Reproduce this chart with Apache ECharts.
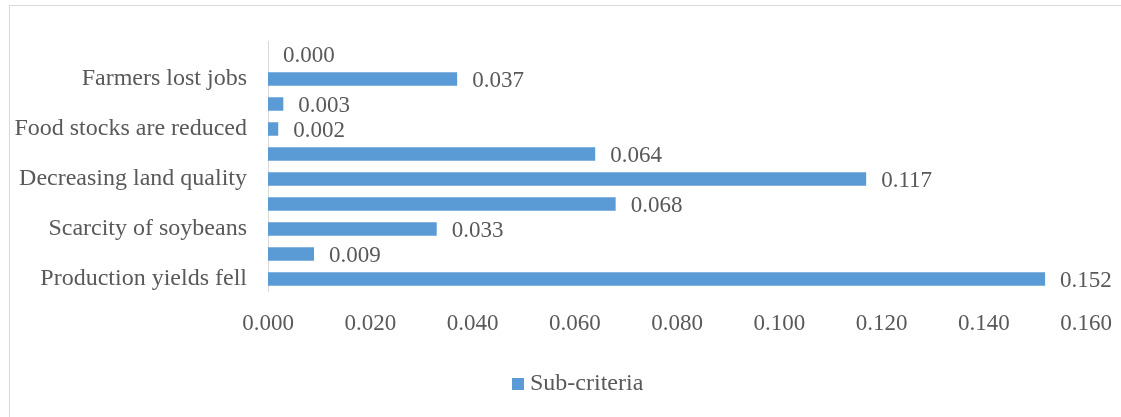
<!DOCTYPE html>
<html>
<head>
<meta charset="utf-8">
<style>
  html, body { margin: 0; padding: 0; background: #fff; overflow: hidden; }
  #frame { position: absolute; left: 9px; top: 5px; width: 1200px; height: 500px; border: 1px solid #d9d9d9; box-sizing: border-box; }
  #chart { position: absolute; left: 0; top: 0; width: 1121px; height: 417px; }
</style>
<script src="https://cdn.jsdelivr.net/npm/echarts@6/dist/echarts.min.js"></script>
</head>
<body>
<div id="frame"></div>
<div id="chart"></div>
<script>
// Categories listed bottom to top; every other label is left blank on the axis
const categories = [
  'Production yields fell', '',
  'Scarcity of soybeans', '',
  'Decreasing land quality', '',
  'Food stocks are reduced', '',
  'Farmers lost jobs', ''
];
const subCriteria = [0.152, 0.009, 0.033, 0.068, 0.117, 0.064, 0.002, 0.003, 0.037, 0.000];
const xTicks = [0, 0.02, 0.04, 0.06, 0.08, 0.10, 0.12, 0.14, 0.16];

const FONT = "'Liberation Serif', 'Times New Roman', serif";
const TEXT = '#595959';

const chart = echarts.init(document.getElementById('chart'), null, { renderer: 'canvas' });
chart.setOption({
  animation: false,
  textStyle: { fontFamily: FONT },
  grid: { left: 268, right: 35, top: 41.5, height: 250, containLabel: false },
  legend: {
    data: ['Sub-criteria'],
    bottom: 16,
    left: 507,
    itemWidth: 12,
    itemHeight: 12,
    icon: 'rect',
    itemGap: 6,
    textStyle: { fontFamily: FONT, fontSize: 24, color: TEXT, padding: [0, 0, 0, 1] }
  },
  xAxis: {
    type: 'value',
    min: xTicks[0],
    max: xTicks[xTicks.length - 1],
    interval: xTicks[1] - xTicks[0],
    axisLine: { show: false },
    axisTick: { show: false },
    splitLine: { show: false },
    axisLabel: {
      margin: 21,
      fontFamily: FONT, fontSize: 23, color: TEXT,
      formatter: v => v.toFixed(3)
    }
  },
  yAxis: {
    type: 'category',
    data: categories,
    axisLine: { show: true, lineStyle: { color: '#d9d9d9', width: 1 } },
    axisTick: { show: false },
    axisLabel: {
      interval: 0, margin: 21, padding: [6, 0, 0, 0],
      fontFamily: FONT, fontSize: 24, color: TEXT
    }
  },
  series: [{
    name: 'Sub-criteria',
    type: 'bar',
    data: subCriteria,
    barCategoryGap: '46%',
    itemStyle: { color: '#5b9bd5' },
    label: {
      show: true,
      position: 'right',
      distance: 15,
      offset: [0, 2],
      fontFamily: FONT, fontSize: 23, color: TEXT,
      formatter: p => p.value.toFixed(3)
    }
  }]
});
</script>
</body>
</html>
